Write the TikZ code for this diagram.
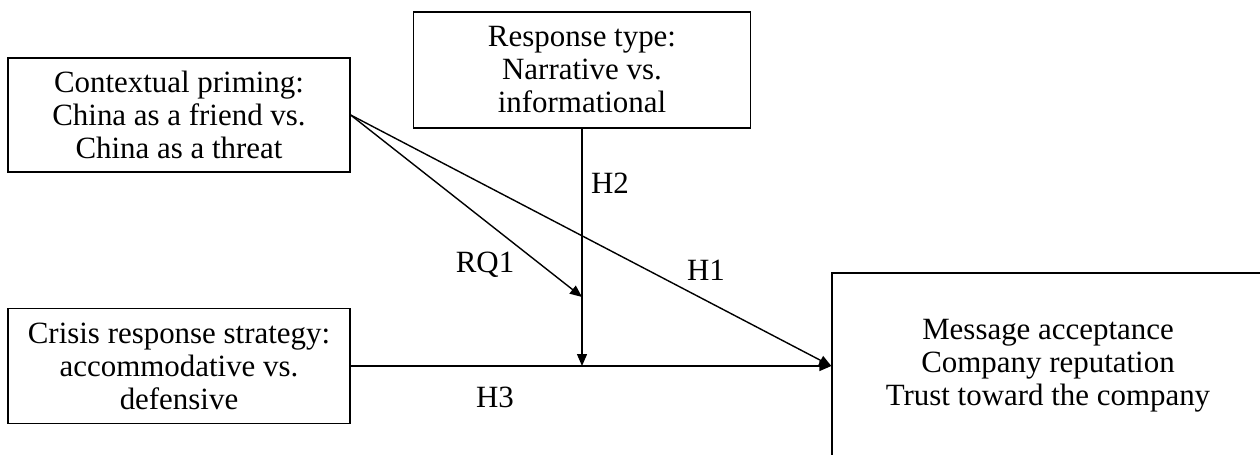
\documentclass[tikz,border=0pt]{standalone}
\usepackage{fontspec}
\setmainfont{Liberation Serif}
\usepackage{tikz}
\usetikzlibrary{arrows.meta}
\usetikzlibrary{positioning}
\tikzset{varbox/.style={draw, line width=0.8pt, align=center, inner sep=0pt},
  path/.style={line width=0.8pt, -{Triangle[length=0.24cm, width=0.2cm]}},
  hyp/.style={inner sep=0pt}}

\begin{document}
\begin{tikzpicture} [x=0.02cm, y=-0.02cm,
      every node/.style={font=\fontsize{17.6}{18.8}\selectfont}]
      \useasboundingbox (0,0) rectangle (1260,455);

      % variables
      \node[varbox, minimum width=6.84cm, minimum height=2.28cm] (context) at (179,115)
        {Contextual priming:\\ China as a friend vs.\\ China as a threat};
      \node[varbox, minimum width=6.74cm, minimum height=2.32cm] (resptype) at (582,70)
        {Response type:\\ Narrative vs.\\ informational};
      \node[varbox, minimum width=6.84cm, minimum height=2.30cm] (crisis) at (179,366)
        {Crisis response strategy:\\ accommodative vs.\\ defensive};
      \node[varbox, minimum width=8.64cm, minimum height=3.72cm] (outcome) at (1048,366)
        {Message acceptance\\ Company reputation\\ Trust toward the company};

      \coordinate (rqend) at (582,297);
      \coordinate (h2end) at (resptype.south |- crisis.east);

      % paths
      \draw[path] (crisis.east) -- (outcome.west);
      \draw[path] (context.east) -- (outcome.west);
      \draw[path] (context.east) -- (rqend);
      \draw[path] (resptype.south) -- (h2end);

      % labels
      \node[hyp] (h1) at (706,270) {H1};
      \node[hyp] (h2) at (610,183) {H2};
      \node[hyp] (h3) at (495,397) {H3};
      \node[hyp] (rq1) at (485,265) {RQ1};
    \end{tikzpicture}
\end{document}
